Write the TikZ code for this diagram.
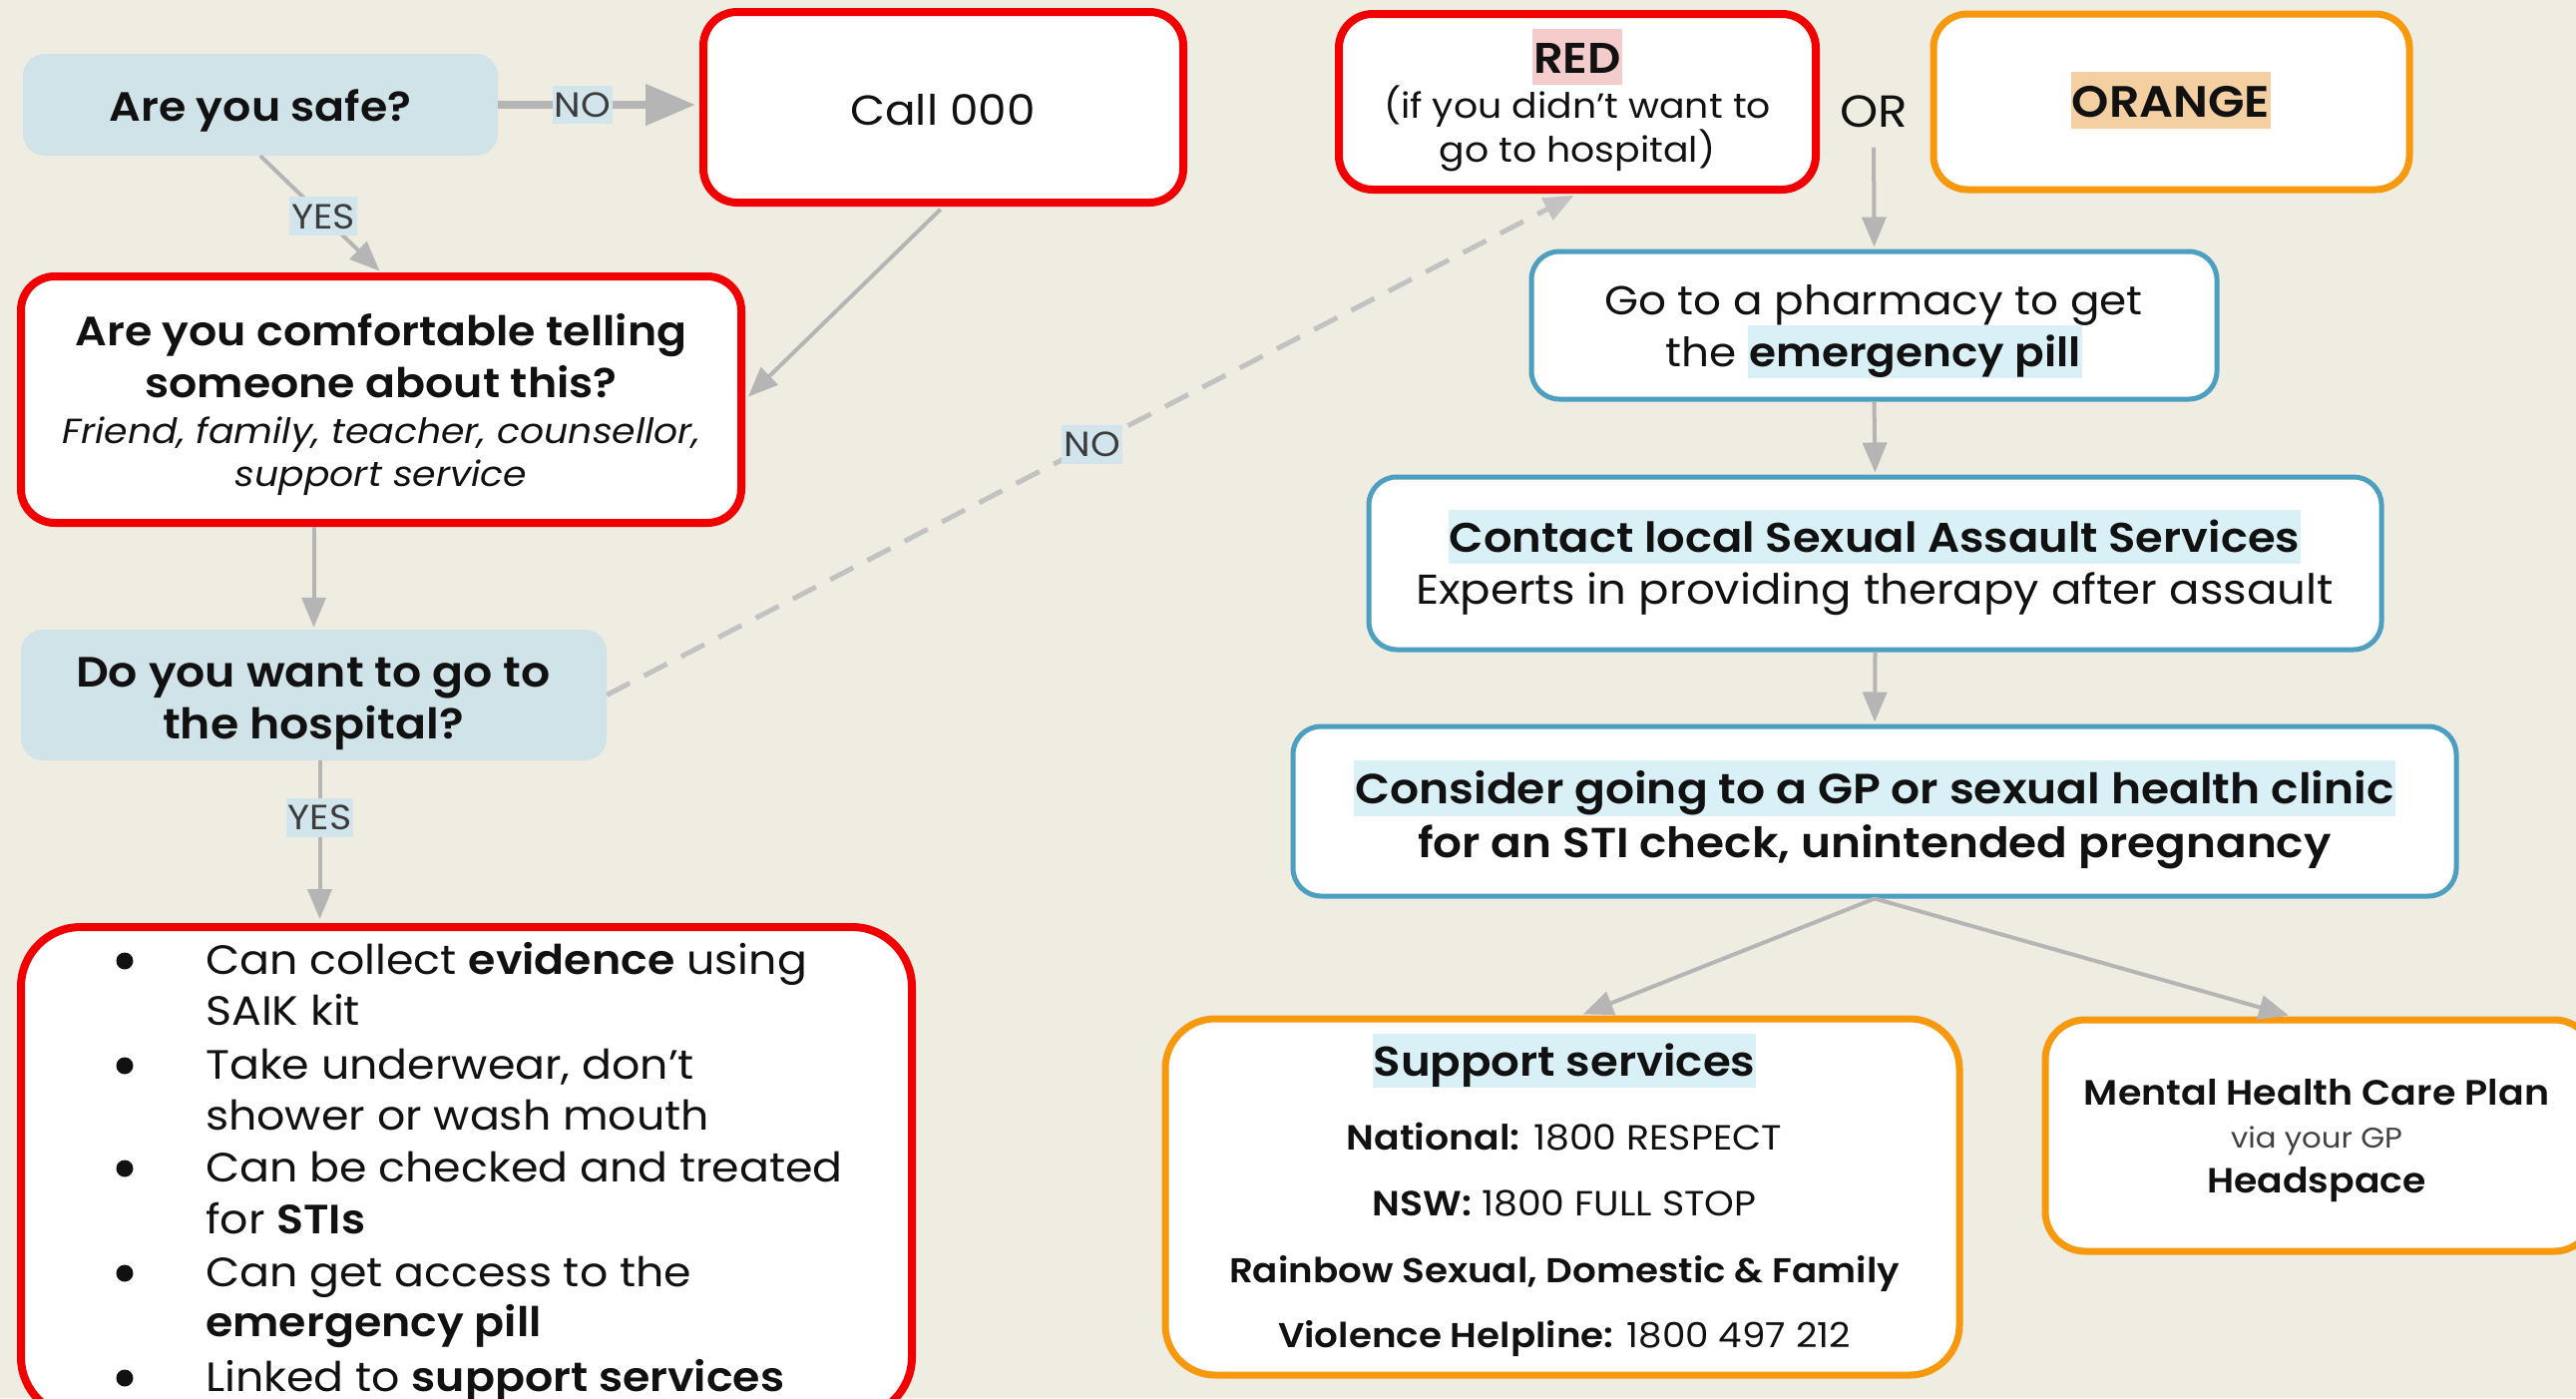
\documentclass[tikz,border=0pt]{standalone}
\usepackage{fontspec}
\setmainfont{Poppins}[FakeStretch=1.08, BoldFont={Poppins SemiBold}, BoldItalicFont={Poppins SemiBold Italic}]
\usetikzlibrary{arrows.meta,fit,calc}
\definecolor{bg}{HTML}{EFECE1}
\definecolor{qfill}{HTML}{D0E3E9}
\definecolor{cred}{HTML}{F00000}
\definecolor{corange}{HTML}{F7990F}
\definecolor{cblue}{HTML}{4C9FC0}
\definecolor{arr}{HTML}{B5B5B5}
\definecolor{arrd}{HTML}{C2C2C2}
\definecolor{hlcyan}{HTML}{D9F1F6}
\definecolor{hlpink}{HTML}{F4CCCC}
\definecolor{hlpeach}{HTML}{F3CFA2}
\definecolor{lblfill}{HTML}{D2E5EC}
\definecolor{lbltext}{HTML}{3C3C3C}
\definecolor{ink}{HTML}{111111}
\newcommand\hlx[2]{{\setlength\fboxsep{1pt}\colorbox{#1}{\rule[-0.26em]{0pt}{1.25em}#2}}}
\newcommand\fs[2]{\fontsize{#1}{#2}\selectfont}
\begin{document}
\begin{tikzpicture}[x=1pt,y=-1pt,
  qbox/.style={fill=qfill, rounded corners=22pt, inner sep=0pt, draw=none},
  rbox/.style={draw=cred, line width=8pt, fill=white, rounded corners=34pt, inner sep=0pt},
  obox/.style={draw=corange, line width=7pt, fill=white, rounded corners=34pt, inner sep=0pt},
  bbox/.style={draw=cblue, line width=5pt, fill=white, rounded corners=28pt, inner sep=0pt},
  txt/.style={inner sep=0pt, anchor=base, text=ink},
  ltxt/.style={inner sep=0pt, anchor=base west, text=ink, font=\fs{41}{52}},
  dot/.style={circle, fill=ink, minimum size=17pt, inner sep=0pt},
  conn/.style={draw=arr, line width=4pt, -{Triangle[length=30pt,width=24pt]}},
  lbl/.style={fill=lblfill, text=lbltext, font=\fs{35}{40}, inner xsep=2pt, inner ysep=7pt}]
\useasboundingbox (0,0) rectangle (2582,1401);
\fill[bg] (0,0) rectangle (2582,1401);

% boxes
\node[qbox, fit={(23,54) (499,156)}] (safe) {};
\node[rbox, fit={(705,12) (1186,203)}] (call) {};
\node[rbox, fit={(21,277) (743,524)}] (comf) {};
\node[qbox, fit={(21,631) (608,762)}] (hosp) {};
\node[rbox, rounded corners=60pt, fit={(21,929) (914,1420)}] (bul) {};
\node[rbox, fit={(1342,14) (1820,190)}] (red) {};
\node[obox, fit={(1938,14) (2415,190)}] (orange) {};
\node[bbox, fit={(1535,252) (2222,400)}] (pharm) {};
\node[bbox, fit={(1372,478) (2387,651)}] (contact) {};
\node[bbox, fit={(1296,728) (2462,898)}] (consider) {};
\node[obox, rounded corners=50pt, fit={(1168,1021) (1964,1378)}] (support) {};
\node[obox, rounded corners=40pt, fit={(2050,1022) (2600,1254)}] (mental) {};

% texts
\node[txt, font=\bfseries\fs{41}{50}] (safet) at (261,121) {Are you safe?};
\node[txt, font=\fs{42}{50}] (callt) at (945,125) {Call 000};
\node[txt, font=\bfseries\fs{41}{50}] (comf1) at (382,346) {Are you comfortable telling};
\node[txt, font=\bfseries\fs{41}{50}] (comf2) at (382,398) {someone about this?};
\node[txt, font=\itshape\fs{35}{40}] (comf3) at (382,444) {Friend, family, teacher, counsellor,};
\node[txt, font=\itshape\fs{35}{40}] (comf4) at (382,487) {support service};
\node[txt, font=\bfseries\fs{42.4}{50}] (hosp1) at (314,688) {Do you want to go to};
\node[txt, font=\bfseries\fs{42.4}{50}] (hosp2) at (314,740) {the hospital?};

\node[dot] (d1) at (125,963) {};
\node[dot] (d2) at (125,1068) {};
\node[dot] (d3) at (125,1171) {};
\node[dot] (d4) at (125,1276) {};
\node[dot] (d5) at (125,1381) {};
\node[ltxt] (b1) at (206,976) {Can collect \textbf{evidence} using};
\node[ltxt] (b2) at (206,1027) {SAIK kit};
\node[ltxt] (b3) at (206,1081) {Take underwear, don’t};
\node[ltxt] (b4) at (206,1132) {shower or wash mouth};
\node[ltxt] (b5) at (206,1184) {Can be checked and treated};
\node[ltxt] (b6) at (206,1236) {for \textbf{STIs}};
\node[ltxt] (b7) at (206,1289) {Can get access to the};
\node[ltxt] (b8) at (206,1339) {\textbf{emergency pill}};
\node[ltxt] (b9) at (206,1394) {Linked to \textbf{support services}};

\node[txt, font=\bfseries\fs{43}{50}] (redt) at (1581,73) {\hlx{hlpink}{RED}};
\node[txt, font=\fs{35}{40}] (red2) at (1581,118) {(if you didn’t want to};
\node[txt, font=\fs{35}{40}] (red3) at (1581,162) {go to hospital)};
\node[txt, font=\fs{45}{50}] (ort) at (1878,127) {OR};
\node[txt, font=\bfseries\fs{44}{50}] (oranget) at (2176,117) {\hlx{hlpeach}{ORANGE}};

\node[txt, font=\fs{40.5}{50}] (ph1) at (1878,315) {Go to a pharmacy to get};
\node[txt, font=\fs{40.5}{50}] (ph2) at (1878,367) {the \hlx{hlcyan}{\bfseries emergency pill}};
\node[txt, font=\bfseries\fs{41.5}{50}] (ct1) at (1879,553) {\hlx{hlcyan}{Contact local Sexual Assault Services}};
\node[txt, font=\fs{41.7}{50}] (ct2) at (1879,605) {Experts in providing therapy after assault};
\node[txt, font=\bfseries\fs{42.2}{50}] (cs1) at (1879,805) {\hlx{hlcyan}{Consider going to a GP or sexual health clinic}};
\node[txt, font=\bfseries\fs{42}{50}] (cs2) at (1879,859) {for an STI check, unintended pregnancy};

\node[txt, font=\bfseries\fs{41.7}{50}] (su1) at (1568,1078) {\hlx{hlcyan}{Support services}};
\node[txt, font=\fs{35}{40}] (su2) at (1568,1152) {\textbf{National:} 1800 RESPECT};
\node[txt, font=\fs{35}{40}] (su3) at (1568,1218) {\textbf{NSW:} 1800 FULL STOP};
\node[txt, font=\fs{34.5}{40}] (su4) at (1568,1285) {\textbf{Rainbow Sexual, Domestic \& Family}};
\node[txt, font=\fs{34.5}{40}] (su5) at (1568,1350) {\textbf{Violence Helpline:} 1800 497 212};

\node[txt, font=\bfseries\fs{35.2}{44}] (me1) at (2322,1107) {Mental Health Care Plan};
\node[txt, font=\fs{28.5}{34}, text=ink!80] (me2) at (2322,1150) {via your GP};
\node[txt, font=\bfseries\fs{35}{44}] (me3) at (2322,1195) {Headspace};

% connectors
\draw[conn, line width=8pt, -{Triangle[length=50pt,width=40pt]}, shorten >=4pt] (safe.east) -- (safe.east -| call.west) node[lbl, pos=0.42] (lno1) {NO};
\draw[conn, shorten >=2pt] (safe.south) -- (comf.north) node[lbl, pos=0.52] (lyes1) {YES};
\draw[conn, shorten >=4pt, shorten <=4pt] (call.south) -- (comf.east);
\draw[conn, shorten >=2pt] (comf.south -| hosp.north) -- (hosp.north);
\coordinate (h1) at ($(hosp.south)+(6,0)$);
\draw[conn, shorten >=4pt] (h1) -- (h1 |- bul.north) node[lbl, pos=0.35] (lyes2) {YES};
\draw[conn, draw=arrd, line width=5pt, dash pattern=on 26pt off 16pt, shorten >=4pt] (hosp.east) -- (red.south) node[lbl, pos=0.5] (lno2) {NO};
\draw[conn, shorten <=20pt, shorten >=2pt] (ort.south) -- (pharm.north);
\draw[conn, shorten >=2pt] (pharm.south) -- (contact.north);
\draw[conn, shorten >=2pt] (contact.south) -- (consider.north);
\draw[conn, shorten >=3pt] (consider.south) -- ($(support.north)+(18,0)$);
\draw[conn, shorten >=3pt] (consider.south) -- ($(mental.north)+(-28,0)$);
\end{tikzpicture}
\end{document}
